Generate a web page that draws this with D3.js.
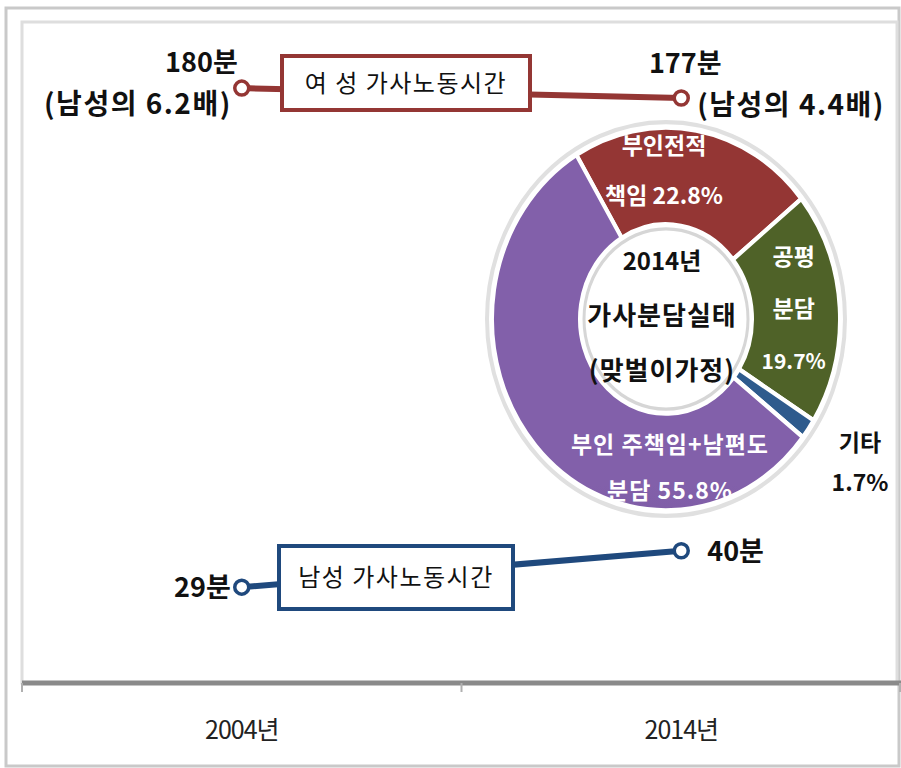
<!DOCTYPE html>
<html>
<head>
<meta charset="utf-8">
<script src="https://cdn.jsdelivr.net/npm/d3@7"></script>
<style>
  body { margin: 0; background: #fff; }
  text { font-family: "Noto Sans CJK KR", "Noto Sans", sans-serif; }
</style>
</head>
<body>
<svg class="chart"></svg>
<script>
// chart data
var years = ['2004년', '2014년'];
var femaleMinutes = [180, 177];
var maleMinutes = [29, 40];
var femaleNotes = ['(남성의 6.2배)', '(남성의 4.4배)'];
var seriesNames = ['여 성  가사노동시간', '남성 가사노동시간'];

var shareNames = [['부인전적', '책임'], ['공평', '분담'], ['기타'], ['부인 주책임+남편도', '분담']];
var shareValues = [22.8, 19.7, 1.7, 55.8];
var donutTitle = ['2014년', '가사분담실태', '(맞벌이가정)'];

(function show() {
    'use strict';

    var W = 901, H = 768;
    var plot = { left: 22, right: 901, top: 22, bottom: 683 };
    var red = '#943634', blue = '#1f497d';

    var svg = d3.select('.chart').attr('width', W).attr('height', H);

    // gradient for the big purple slice
    var grad = svg.append('defs').append('linearGradient')
        .attr('id', 'purple').attr('gradientUnits', 'userSpaceOnUse')
        .attr('x1', 0).attr('y1', 150).attr('x2', 0).attr('y2', 510);
    grad.append('stop').attr('offset', 0).attr('stop-color', '#8260aa');
    grad.append('stop').attr('offset', 1).attr('stop-color', '#5d3e7f');

    // frames
    svg.append('rect').attr('x', 6).attr('y', 8).attr('width', 893).attr('height', 758)
        .attr('fill', 'none').attr('stroke', '#c9c9c9').attr('stroke-width', 3);
    svg.append('rect').attr('x', plot.left).attr('y', plot.top)
        .attr('width', 875).attr('height', plot.bottom - plot.top)
        .attr('fill', 'none').attr('stroke', '#dedede').attr('stroke-width', 3);

    // scales
    var x = d3.scaleBand().domain(years).range([plot.left, plot.right]);
    var y = d3.scaleLinear().domain([0, 200]).range([plot.bottom, plot.top]);
    var cxOf = function (d) { return x(d) + x.bandwidth() / 2; };

    // axis: thick gray baseline, ticks at band edges, labels in the middle
    var axis = svg.append('g').attr('transform', 'translate(0,' + plot.bottom + ')');
    axis.call(d3.axisBottom(x).tickSize(0).tickPadding(38))
        .call(function (g) { g.select('.domain').remove(); })
        .selectAll('text')
        .attr('font-size', 25).attr('fill', '#222').attr('font-family', '"Noto Sans CJK KR"')
        .attr('letter-spacing', -1);
    axis.append('line').attr('x1', plot.left).attr('x2', plot.right)
        .attr('stroke', '#8a8a8a').attr('stroke-width', 5);
    axis.selectAll('.edge').data(years.map(function (d) { return x(d); }).concat([plot.right - 1]))
        .enter().append('line').attr('class', 'edge')
        .attr('x1', function (d) { return d; }).attr('x2', function (d) { return d; })
        .attr('y1', 0).attr('y2', 9)
        .attr('stroke', '#b0b0b0').attr('stroke-width', 2);

    // the two lines
    function drawSeries(values, color) {
        var pts = years.map(function (d, i) { return [cxOf(d), y(values[i])]; });
        svg.append('path').datum(pts)
            .attr('d', d3.line())
            .attr('fill', 'none').attr('stroke', color).attr('stroke-width', 6);
        return pts;
    }
    var fPts = drawSeries(femaleMinutes, red);
    var mPts = drawSeries(maleMinutes, blue);

    // series boxes
    function seriesBox(x0, x1, y0, y1, label, color, size) {
        svg.append('rect').attr('x', x0).attr('y', y0)
            .attr('width', x1 - x0).attr('height', y1 - y0)
            .attr('fill', '#fff').attr('stroke', color).attr('stroke-width', 4);
        svg.append('text').attr('x', (x0 + x1) / 2).attr('y', (y0 + y1) / 2)
            .attr('dy', '0.36em').attr('text-anchor', 'middle')
            .attr('font-size', size).attr('letter-spacing', 1.5).attr('fill', '#111').text(label);
    }
    seriesBox(282, 530, 56, 110, seriesNames[0], red, 24);
    seriesBox(279, 513, 546, 609, seriesNames[1], blue, 24);

    // markers
    function markers(pts, color) {
        svg.selectAll(null).data(pts).enter().append('circle')
            .attr('cx', function (d) { return d[0]; }).attr('cy', function (d) { return d[1]; })
            .attr('r', 7).attr('fill', '#fff').attr('stroke', color).attr('stroke-width', 3.5);
    }
    markers(fPts, red);
    markers(mPts, blue);

    // value labels
    function lbl(px, py, txt, anchor, size, sp) {
        svg.append('text').attr('x', px).attr('y', py).attr('text-anchor', anchor)
            .attr('font-size', size).attr('letter-spacing', sp || 0)
            .attr('font-weight', 'bold').attr('fill', '#111').text(txt);
    }
    lbl(fPts[0][0] - 4, fPts[0][1] - 16, femaleMinutes[0] + '분', 'end', 27);
    lbl(fPts[0][0] - 10, fPts[0][1] + 26, femaleNotes[0], 'end', 28, 1.5);
    lbl(fPts[1][0] + 4, fPts[1][1] - 25, femaleMinutes[1] + '분', 'middle', 27);
    lbl(fPts[1][0] + 16, fPts[1][1] + 17, femaleNotes[1], 'start', 28, 1.5);
    lbl(mPts[0][0] - 11, mPts[0][1] + 10, maleMinutes[0] + '분', 'end', 27);
    lbl(mPts[1][0] + 26, mPts[1][1] + 10, maleMinutes[1] + '분', 'start', 27);

    // donut
    var cx = 666, cy = 319, R = 174, r = 86, sy = 1.1;
    var start = -31 * Math.PI / 180;
    var pie = d3.pie().sort(null).startAngle(start).endAngle(start + 2 * Math.PI);
    var arcs = pie(shareValues);
    var arc = d3.arc().innerRadius(r).outerRadius(R);
    var sliceFill = [red, '#4f6228', '#2e5b8d', 'url(#purple)'];

    var donut = svg.append('g').attr('transform', 'translate(' + cx + ',' + cy + ') scale(1,' + sy + ')');
    donut.append('circle').attr('r', R + 5).attr('fill', 'none')
        .attr('stroke', '#e0e0e0').attr('stroke-width', 4);
    donut.selectAll('path').data(arcs).enter().append('path')
        .attr('d', arc)
        .attr('fill', function (d, i) { return sliceFill[i]; })
        .attr('stroke', '#fff').attr('stroke-width', 4);
    donut.append('circle').attr('r', r - 4).attr('fill', 'none')
        .attr('stroke', '#d6d6d6').attr('stroke-width', 3);

    // center title
    donutTitle.forEach(function (t, i) {
        svg.append('text').attr('x', cx - 4).attr('y', cy - 58 + i * 55)
            .attr('dy', '0.36em').attr('text-anchor', 'middle')
            .attr('font-size', i === 0 ? 24 : 26).attr('letter-spacing', i === 0 ? 0 : 1)
            .attr('font-weight', 'bold').attr('fill', '#111')
            .text(t);
    });

    // slice labels: anchor angle (deg), radius, line gap, colour
    var place = [
        { a: 0, rad: 135, gap: 50, color: '#fff', dx: -2, own: false },
        { a: 86, rad: 128, gap: 52, color: '#fff', dx: 0, own: true },
        { a: 124, rad: R + 60, gap: 40, color: '#111', dx: 0, own: true },
        { a: 180, rad: 135, gap: 46, color: '#fff', dx: 4, own: false }
    ];
    arcs.forEach(function (d, i) {
        var p = place[i];
        var ang = p.a * Math.PI / 180;
        var px = cx + p.rad * Math.sin(ang) + p.dx;
        var py = cy - p.rad * Math.cos(ang) * sy;
        var lines = shareNames[i].slice();
        var v = d.data + '%';
        if (p.own) lines.push(v); else lines[lines.length - 1] += ' ' + v;
        var y0 = py - (lines.length - 1) * p.gap / 2;
        lines.forEach(function (t, j) {
            svg.append('text').attr('x', px).attr('y', y0 + j * p.gap)
                .attr('dy', '0.36em').attr('text-anchor', 'middle')
                .attr('font-size', i === 1 && j === 2 ? 21 : 23)
                .attr('letter-spacing', i === 3 ? 1 : 0)
                .attr('font-weight', 'bold').attr('fill', p.color).text(t);
        });
    });
})();
</script>
</body>
</html>
